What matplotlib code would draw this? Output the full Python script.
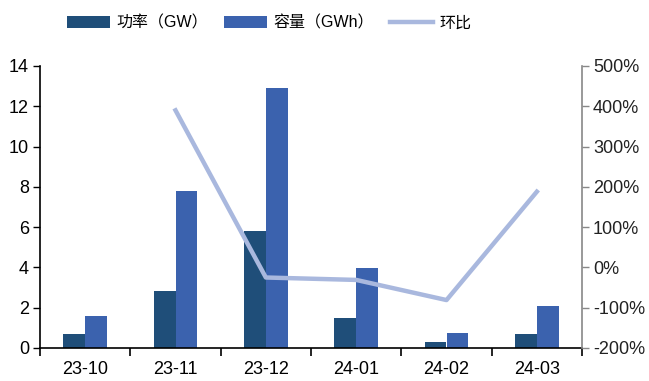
import numpy as np
import matplotlib
matplotlib.use('Agg')
import matplotlib.pyplot as plt
from matplotlib.ticker import FuncFormatter

plt.rcParams['font.family'] = ['Liberation Sans', 'Noto Sans CJK SC', 'DejaVu Sans']

months = ['23-10', '23-11', '23-12', '24-01', '24-02', '24-03']
power_gw = [0.7, 2.83, 5.82, 1.49, 0.3, 0.69]
capacity_gwh = [1.6, 7.8, 12.9, 3.97, 0.74, 2.1]
mom_pct = [np.nan, 390, -25, -31, -81, 188]

c_power = '#1f4e79'
c_cap = '#3b62ae'
c_line = '#a9b8de'

fig = plt.figure(figsize=(6.49, 3.81), dpi=100)
ax = fig.add_axes([40 / 649, 1 - 348 / 381, 542 / 649, 282 / 381])
x = np.arange(len(months))
w = 0.24

b1 = ax.bar(x - w / 2, power_gw, w, color=c_power, label='功率（GW）')
b2 = ax.bar(x + w / 2, capacity_gwh, w, color=c_cap, label='容量（GWh）')

ax.set_xlim(-0.5, len(months) - 0.5)
ax.set_ylim(0, 14)
ax.set_yticks(range(0, 15, 2))
ax.set_xticks(x)
ax.set_xticklabels(months)
ax.set_xticks(np.arange(-0.5, len(months)), minor=True)
ax.tick_params(axis='x', which='major', length=0, pad=9, labelsize=13)
ax.tick_params(axis='x', which='minor', length=6, width=1.2, direction='out')
ax.tick_params(axis='y', length=5, width=1, direction='out', labelsize=13, pad=3)
for s in ['top', 'right']:
    ax.spines[s].set_visible(False)
ax.spines['left'].set_linewidth(1.2)
ax.spines['bottom'].set_linewidth(1.2)

ax2 = ax.twinx()
l1, = ax2.plot(x, mom_pct, color=c_line, lw=3.2, label='环比')
ax2.set_ylim(-200, 500)
ax2.set_yticks(range(-200, 501, 100))
ax2.yaxis.set_major_formatter(FuncFormatter(lambda v, p: f'{v:.0f}%'))
ax2.tick_params(axis='y', length=5, width=1, direction='out', labelsize=13,
                labelcolor='#222222', color='#888888', pad=3)
for s in ['top', 'left', 'bottom']:
    ax2.spines[s].set_visible(False)
ax2.spines['right'].set_color('#888888')
ax2.spines['right'].set_linewidth(1.2)
ax.set_zorder(ax2.get_zorder() - 1)
ax2.patch.set_visible(False)

fig.legend(handles=[b1, b2, l1], loc='center left',
           bbox_to_anchor=(67 / 649, 1 - 23 / 381), borderaxespad=0, borderpad=0,
           ncol=3, frameon=False, fontsize=11.5, handlelength=2.7, handleheight=0.8,
           columnspacing=1.0, handletextpad=0.4)

fig.savefig('out.png', dpi=100)
